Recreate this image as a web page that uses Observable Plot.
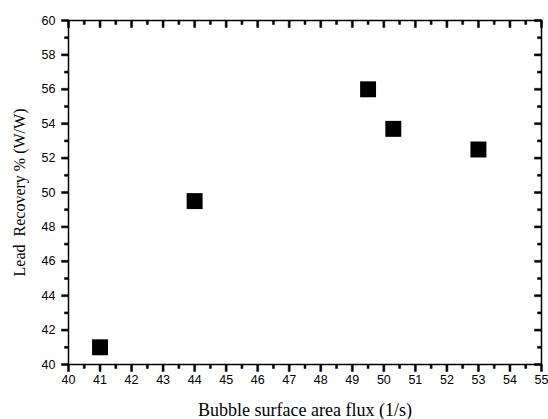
<!DOCTYPE html>
<html><head><meta charset="utf-8">
<script src="https://cdn.jsdelivr.net/npm/d3@7"></script>
<script src="https://cdn.jsdelivr.net/npm/@observablehq/plot@0.6"></script>
<style>body{margin:0;background:#fff}</style>
</head><body><div id="chart"></div>
<script>
const xValues = [41, 44, 49.5, 50.3, 53];
const yValues = [41, 49.5, 56, 53.7, 52.5];
const xTicks = [40,41,42,43,44,45,46,47,48,49,50,51,52,53,54,55];
const xMinorTicks = [40.5,41.5,42.5,43.5,44.5,45.5,46.5,47.5,48.5,49.5,50.5,51.5,52.5,53.5,54.5];
const yTicks = [40,42,44,46,48,50,52,54,56,58,60];
const yMinorTicks = [41,43,45,47,49,51,53,55,57,59];
const xTitle = "Bubble surface area flux (1/s)";
const yTitle = "Lead  Recovery % (W/W)";

const W = 548, H = 419, mL = 68, mR = 7, mT = 20, mB = 55;
const major = 7, minor = 4, tw = 1;

const tickDown = len => ({draw(c) { c.moveTo(-tw, 0); c.lineTo(tw, 0); c.lineTo(tw, len); c.lineTo(-tw, len); c.closePath(); }});
const tickLeft = len => ({draw(c) { c.moveTo(0, -tw); c.lineTo(0, tw); c.lineTo(-len, tw); c.lineTo(-len, -tw); c.closePath(); }});

const points = xValues.map((x, i) => ({x, y: yValues[i]}));
const serif = "'Liberation Serif', 'Times New Roman', serif";
const xMin = 40, xMax = 55, yMin = 40, yMax = 60;

const chart = Plot.plot({
  width: W, height: H,
  marginLeft: mL, marginRight: mR, marginTop: mT, marginBottom: mB,
  x: {domain: [xMin, xMax], ticks: xTicks, tickSize: 0, tickPadding: major + 4, label: null},
  y: {domain: [yMin, yMax], ticks: yTicks, tickSize: 0, tickPadding: major + 6, label: null},
  style: {fontFamily: "'Liberation Sans', Arial, sans-serif", fontSize: "12.5px", color: "#000", background: "#fff", overflow: "visible"},
  marks: [
    Plot.dot(xTicks, {x: d => d, y: () => yMin, symbol: tickDown(major), fill: "#000", stroke: "#000", strokeWidth: 0.5}),
    Plot.dot(xMinorTicks, {x: d => d, y: () => yMin, symbol: tickDown(minor), fill: "#000", stroke: "#000", strokeWidth: 0.5}),
    Plot.dot(xTicks, {x: d => d, y: () => yMax, symbol: tickDown(major), fill: "#000", stroke: "#000", strokeWidth: 0.5}),
    Plot.dot(xMinorTicks, {x: d => d, y: () => yMax, symbol: tickDown(minor), fill: "#000", stroke: "#000", strokeWidth: 0.5}),
    Plot.dot(yTicks, {y: d => d, x: () => xMin, symbol: tickLeft(major), fill: "#000", stroke: "#000", strokeWidth: 0.5}),
    Plot.dot(yMinorTicks, {y: d => d, x: () => xMin, symbol: tickLeft(minor), fill: "#000", stroke: "#000", strokeWidth: 0.5}),
    Plot.dot(yTicks, {y: d => d, x: () => xMax, symbol: tickLeft(major), fill: "#000", stroke: "#000", strokeWidth: 0.5}),
    Plot.dot(yMinorTicks, {y: d => d, x: () => xMax, symbol: tickLeft(minor), fill: "#000", stroke: "#000", strokeWidth: 0.5}),
    Plot.frame({stroke: "#000", strokeWidth: 1.5}),
    Plot.dot(points, {x: "x", y: "y", symbol: "square", r: 9, fill: "#000"}),
    Plot.text([xTitle], {text: d => d, frameAnchor: "bottom", dy: 46, lineAnchor: "middle", fontFamily: serif, fontSize: 18, fill: "#000"}),
    Plot.text([yTitle], {text: d => d, frameAnchor: "left", dx: -49, rotate: -90, textAnchor: "middle", lineAnchor: "middle", fontFamily: serif, fontSize: 16, fill: "#000"})
  ]
});
document.getElementById("chart").appendChild(chart);
</script>
</body></html>
